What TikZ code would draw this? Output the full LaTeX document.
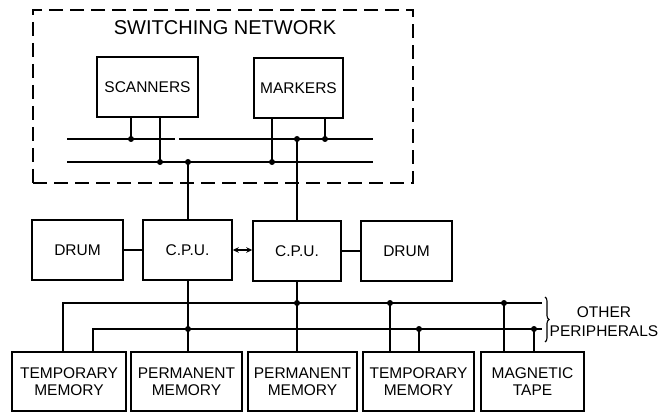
\documentclass[tikz,border=0pt]{standalone}
\usepackage{fontspec}
\setmainfont{Liberation Sans}
\usetikzlibrary{arrows.meta,decorations.pathreplacing}
\begin{document}
\begin{tikzpicture}[x=1pt,y=-1pt,
  wire/.style={line width=1.5pt},
  unit/.style={draw,line width=1.5pt,inner sep=0pt,align=center,
               font=\fontsize{15.5}{17}\selectfont},
  frame/.style={draw,line width=1.5pt,dash pattern=on 14pt off 7pt,inner sep=0pt},
  jdot/.style={circle,fill,inner sep=0pt,minimum size=6pt},
  lbl/.style={align=center,inner sep=0pt,font=\fontsize{15.5}{19}\selectfont},
]
\useasboundingbox (0,0) rectangle (672,414);

% switching network
\node[frame,minimum width=380pt,minimum height=173pt] (net) at (223,96.5) {};
\node[inner sep=0pt,font=\fontsize{20}{24}\selectfont] (title) at (225,28) {SWITCHING NETWORK};
\node[unit,minimum width=101pt,minimum height=60pt] (scan) at (147.5,87) {SCANNERS};
\node[unit,minimum width=89pt,minimum height=60pt] (mark) at (298.5,88) {MARKERS};

% processors and drums
\node[unit,minimum width=91pt,minimum height=60pt] (drum1) at (77.5,250) {DRUM};
\node[unit,minimum width=89pt,minimum height=60pt] (cpu1) at (187.5,250) {C.P.U.};
\node[unit,minimum width=88pt,minimum height=60pt] (cpu2) at (297,251) {C.P.U.};
\node[unit,minimum width=91pt,minimum height=60pt] (drum2) at (406.5,251) {DRUM};

% peripherals
\node[unit,minimum width=114pt,minimum height=59pt] (tm1) at (69,381.5) {TEMPORARY\\MEMORY};
\node[unit,minimum width=111pt,minimum height=59pt] (pm1) at (186.5,381.5) {PERMANENT\\MEMORY};
\node[unit,minimum width=109pt,minimum height=59pt] (pm2) at (302.5,381.5) {PERMANENT\\MEMORY};
\node[unit,minimum width=111pt,minimum height=59pt] (tm2) at (418.5,381.5) {TEMPORARY\\MEMORY};
\node[unit,minimum width=103pt,minimum height=59pt] (mt) at (532.5,381.5) {MAGNETIC\\TAPE};
\node[lbl] (oth) at (604,322) {OTHER\\PERIPHERALS};

% switching network buses
\coordinate (ua) at (67,139);  \coordinate (ub) at (373,139);
\coordinate (ga) at (175,139); \coordinate (gb) at (179,139);
\coordinate (la) at (67,162);  \coordinate (lb) at (373,162);
\draw[wire] (ua) -- (ga);
\draw[wire] (gb) -- (ub);
\draw[wire] (la) -- (lb);

\coordinate (s1) at (131,139);
\coordinate (s2) at (160,162);
\coordinate (m1) at (272,162);
\coordinate (m2) at (325,139);
\coordinate (c1) at (188,162);
\coordinate (c2) at (297,139);
\draw[wire] (scan.south -| s1) -- (s1);
\draw[wire] (scan.south -| s2) -- (s2);
\draw[wire] (mark.south -| m1) -- (m1);
\draw[wire] (mark.south -| m2) -- (m2);
\draw[wire] (c1) -- (cpu1.north -| c1);
\draw[wire] (c2) -- (cpu2.north -| c2);
\foreach \p in {s1,s2,m1,m2,c1,c2} \node[jdot] at (\p) {};

% processor links
\draw[wire] (drum1) -- (cpu1);
\draw[wire] (cpu2) -- (drum2);
\draw[line width=1.2pt,{Stealth[length=6pt,width=5.5pt]}-{Stealth[length=6pt,width=5.5pt]}]
  (cpu1.east) -- (cpu2.west |- cpu1.east);

% peripheral buses
\coordinate (pu0) at (63,303);  \coordinate (pu1) at (542,303);
\coordinate (pl0) at (93,329);  \coordinate (pl1) at (542,329);
\draw[wire] (tm1.north -| pu0) -- (pu0) -- (pu1);
\draw[wire] (tm1.north -| pl0) -- (pl0) -- (pl1);

\coordinate (j1) at (188,329);
\coordinate (j2) at (297,303);
\coordinate (j3) at (390,303);
\coordinate (j4) at (419,329);
\coordinate (j5) at (504,303);
\coordinate (j6) at (534,329);
\draw[wire] (cpu1.south -| j1) -- (pm1.north -| j1);
\draw[wire] (cpu2.south -| j2) -- (pm2.north -| j2);
\draw[wire] (j3) -- (tm2.north -| j3);
\draw[wire] (j4) -- (tm2.north -| j4);
\draw[wire] (j5) -- (mt.north -| j5);
\draw[wire] (j6) -- (mt.north -| j6);
\foreach \p in {j1,j2,j3,j4,j5,j6} \node[jdot] at (\p) {};

% brace grouping the open bus ends
\coordinate (br1) at (545,297);
\coordinate (br2) at (545,342);
\draw[line width=1.1pt,decorate,decoration={brace,amplitude=4pt}] (br1) -- (br2);
\end{tikzpicture}
\end{document}
